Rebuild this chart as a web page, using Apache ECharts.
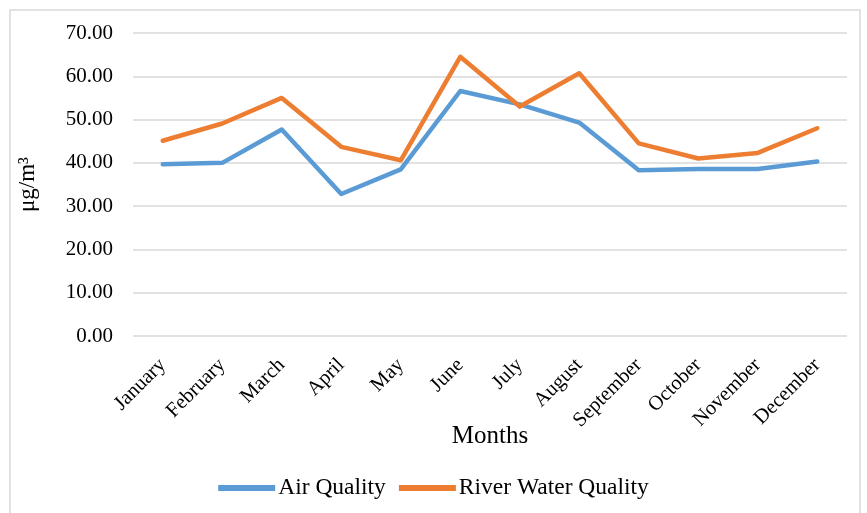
<!DOCTYPE html>
<html>
<head>
<meta charset="utf-8">
<script src="https://cdn.jsdelivr.net/npm/echarts@6/dist/echarts.min.js"></script>
<style>
  html, body { margin: 0; padding: 0; background: #fff; }
  #chart { width: 867px; height: 513px; }
</style>
</head>
<body>
<div id="chart"></div>
<script>
const months = ['January', 'February', 'March', 'April', 'May', 'June', 'July', 'August', 'September', 'October', 'November', 'December']
const airQuality = [39.7, 40.0, 47.7, 32.8, 38.5, 56.6, 53.5, 49.3, 38.3, 38.6, 38.6, 40.3]
const riverWater = [45.1, 49.1, 55.0, 43.7, 40.6, 64.5, 53.0, 60.7, 44.5, 41.0, 42.3, 48.0]

const font = '"Liberation Serif", "Times New Roman", serif'

const myChart = echarts.init(document.getElementById('chart'))
const option = {
  animation: false,
  textStyle: { fontFamily: font },
  graphic: [{
    type: 'rect',
    shape: { x: 10, y: 10, width: 850, height: 510 },
    style: { fill: 'none', stroke: '#d9d9d9', lineWidth: 1.5 }
  }],
  grid: { left: 133, right: 20, top: 33, bottom: 177 },
  legend: {
    bottom: 8,
    left: 'center',
    icon: 'rect',
    itemWidth: 57,
    itemHeight: 6,
    itemGap: 13,
    textStyle: { color: '#000', fontSize: 23.5, fontFamily: font, padding: [0, 0, 0, -2] },
    data: ['Air Quality', 'River Water Quality']
  },
  xAxis: {
    type: 'category',
    data: months,
    boundaryGap: true,
    name: 'Months',
    nameLocation: 'middle',
    nameGap: 88,
    nameMoveOverlap: false,
    nameTextStyle: { color: '#000', fontSize: 25, fontFamily: font },
    axisLine: { show: false },
    axisTick: { show: false },
    axisLabel: { rotate: 45, color: '#000', fontSize: 20.5, fontFamily: font, margin: 26 }
  },
  yAxis: {
    type: 'value',
    min: 0,
    max: 70,
    interval: 10,
    name: 'μg/m³',
    nameLocation: 'middle',
    nameGap: 94,
    nameMoveOverlap: false,
    nameTextStyle: { color: '#000', fontSize: 23, fontFamily: font },
    axisLabel: {
      color: '#000', fontSize: 21, fontFamily: font, margin: 20,
      formatter: v => v.toFixed(2)
    },
    splitLine: { lineStyle: { color: '#d9d9d9', width: 1.5 } }
  },
  series: [
    {
      name: 'Air Quality',
      type: 'line',
      data: airQuality,
      symbol: 'none',
      color: '#5B9BD5',
      lineStyle: { width: 4.5, color: '#5B9BD5', cap: 'round', join: 'round' }
    },
    {
      name: 'River Water Quality',
      type: 'line',
      data: riverWater,
      symbol: 'none',
      color: '#ED7D31',
      lineStyle: { width: 4.5, color: '#ED7D31', cap: 'round', join: 'round' }
    }
  ]
}

option && myChart.setOption(option)

window.addEventListener('resize', function () {
  myChart.resize()
})
</script>
</body>
</html>
